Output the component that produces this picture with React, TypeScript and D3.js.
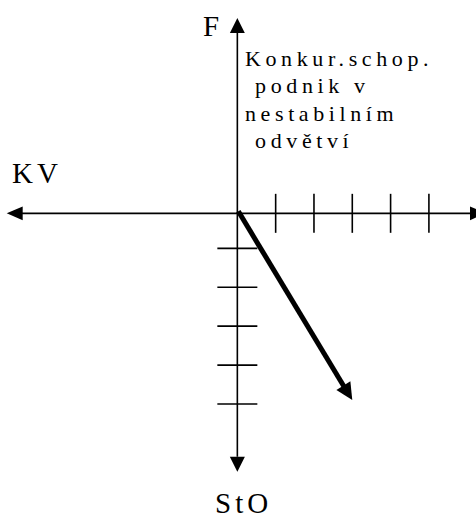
import React from "react";
import * as d3 from "d3";

// ---- data ----
const xTicks = [1, 2, 3, 4, 5];
const yTicks = [-0.9, -1.9, -2.9, -3.9, -4.9];
const xDomain = [-6.02, 6.49];
const yDomain = [-6.64, 5.02];
const vectorEnd = [3.0, -4.8];
const axisLabels = { up: "F", left: "KV", down: "StO" };
const noteLines = ["Konkur.schop.", " podnik v", "nestabilním", " odvětví"];

const W = 476;
const H = 518;
const FONT = "'Times New Roman', 'Liberation Serif', serif";

function arrowHead(tipX: number, tipY: number, dx: number, dy: number, len: number, half: number) {
  const l = Math.hypot(dx, dy);
  const ux = dx / l, uy = dy / l;
  const bx = tipX - ux * len, by = tipY - uy * len;
  const px = -uy, py = ux;
  return `${tipX},${tipY} ${bx + px * half},${by + py * half} ${bx - px * half},${by - py * half}`;
}

export default function App() {
  const x = d3.scaleLinear().domain(xDomain).range([6.7, 486]);
  const y = d3.scaleLinear().domain(yDomain).range([471.7, 18]);
  const x0 = x(0);
  const y0 = y(0);
  const tickHalf = 19.5;

  const xl = x(xDomain[0]), xr = x(xDomain[1]);
  const yt = y(yDomain[1]), yb = y(yDomain[0]);
  const ah = 16, aw = 7.5;

  const vx = x(vectorEnd[0]), vy = y(vectorEnd[1]);
  const vdx = vx - x0, vdy = vy - y0;
  const vl = Math.hypot(vdx, vdy);
  const vHeadLen = 17;
  const lineEndX = vx - (vdx / vl) * (vHeadLen - 2);
  const lineEndY = vy - (vdy / vl) * (vHeadLen - 2);

  const lineH = 27.4;
  const txt = { fontFamily: FONT, fill: "#000" } as React.CSSProperties;

  return (
    <svg width={W} height={H} style={{ position: "absolute", left: 0, top: 0, background: "#fff" }}>
      <rect width={W} height={H} fill="#fff" />
      {/* horizontal axis */}
      <line x1={xl + ah - 1} x2={xr - ah + 1} y1={y0} y2={y0} stroke="#000" strokeWidth={1.6} />
      <polygon points={arrowHead(xl, y0, -1, 0, ah, 6.8)} fill="#000" />
      <polygon points={arrowHead(xr, y0, 1, 0, ah, 6.8)} fill="#000" />
      {/* vertical axis */}
      <line x1={x0} x2={x0} y1={yt + ah - 1} y2={yb - ah + 1} stroke="#000" strokeWidth={1.6} />
      <polygon points={arrowHead(x0, yt, 0, -1, 15, aw)} fill="#000" />
      <polygon points={arrowHead(x0, yb, 0, 1, 15, aw)} fill="#000" />
      {/* ticks */}
      {xTicks.map((t) => (
        <line key={"x" + t} x1={x(t)} x2={x(t)} y1={y0 - tickHalf} y2={y0 + tickHalf} stroke="#000" strokeWidth={1.6} />
      ))}
      {yTicks.map((t) => (
        <line key={"y" + t} x1={x0 - 20} x2={x0 + 20} y1={y(t)} y2={y(t)} stroke="#000" strokeWidth={1.6} />
      ))}
      {/* vector */}
      <line x1={x0 + 1} y1={y0 - 2} x2={lineEndX} y2={lineEndY} stroke="#000" strokeWidth={5} />
      <polygon points={arrowHead(vx, vy, vdx, vdy, vHeadLen, 8.2)} fill="#000" />
      {/* labels */}
      <text x={203} y={35.5} style={{ ...txt, fontSize: 29 }}>{axisLabels.up}</text>
      <text x={12} y={183} style={{ ...txt, fontSize: 29, letterSpacing: 4 }}>{axisLabels.left}</text>
      <text x={215} y={513} style={{ ...txt, fontSize: 29, letterSpacing: 4 }}>{axisLabels.down}</text>
      {noteLines.map((s, i) => (
        <text
          key={i}
          x={245}
          y={66 + i * lineH}
          style={{ ...txt, fontSize: 22, letterSpacing: 4.6, whiteSpace: "pre" }}
        >
          {s}
        </text>
      ))}
    </svg>
  );
}
